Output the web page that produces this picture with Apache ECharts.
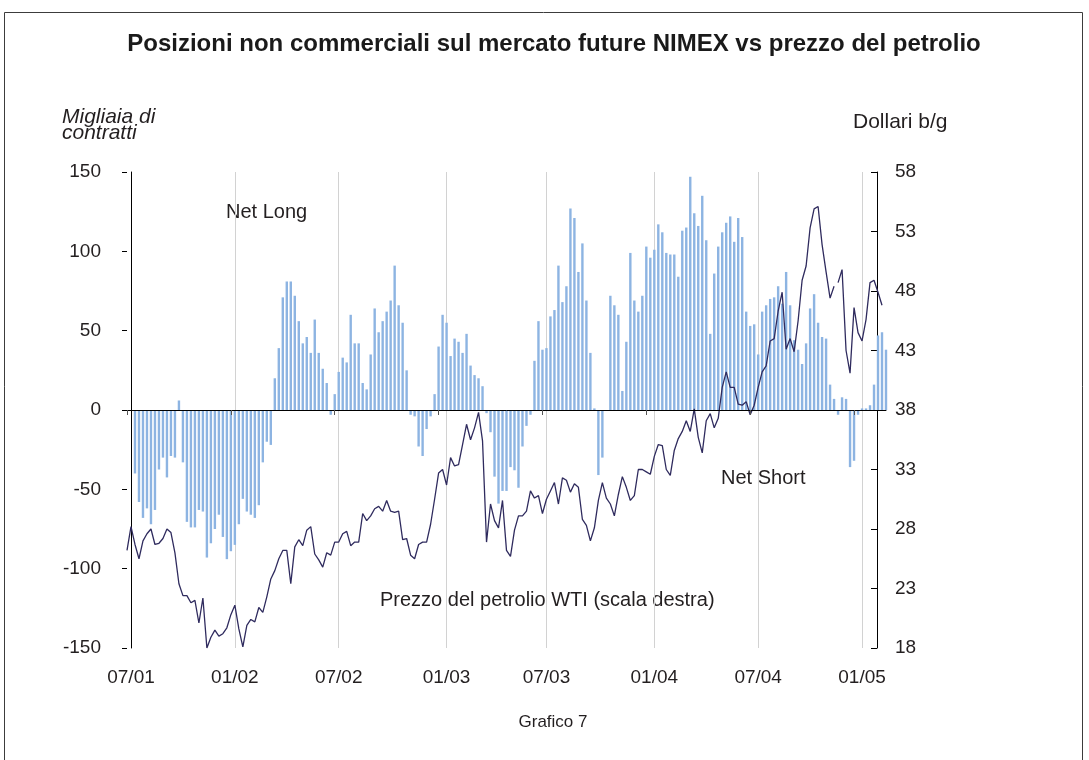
<!DOCTYPE html>
<html>
<head>
<meta charset="utf-8">
<script src="https://cdn.jsdelivr.net/npm/echarts@6/dist/echarts.min.js"></script>
<style>
html,body{margin:0;padding:0;background:#fff;}
#chart{width:1089px;height:760px;}
</style>
</head>
<body>
<div id="chart"></div>
<script>
// ---- data ----
const startWeek = '2001-06-26';          // first weekly observation
const weekCount = 191;                    // weekly categories
const xTickLabels = ['07/01','01/02','07/02','01/03','07/03','01/04','07/04','01/05'];
const leftTicks = [-150,-100,-50,0,50,100,150];
const rightTicks = [18,23,28,33,38,43,48,53,58];

// net non-commercial positions (thousand contracts), weekly, starting at week index 2
const netPositions = [
-40,-58,-68,-62,-72,-63,-37.5,-30,-42.5,-29,
-30,6,-33,-70.5,-74,-74,-63,-64,-93,-84,
-75,-66,-80,-94,-89,-85,-72,-56,-64,-66,
-68,-60,-33,-20,-22,20,39,71,81,81,
72,56,42,46,36,57,36,26,17,-3,
10,24,33,30,60,42,42,17,13,35,
64,49,56,62,69,91,66,55,25,-3,
-4,-23,-29,-12,-4,10,40,60,55,34,
45,43,36,48,28,22,20,15,-2,-14,
-42,-59,-51,-51,-36,-38,-49,-23,-10,-3,
31,56,38,39,59,63,91,68,78,127,
121,87,105,69,36,1,-41,-30,null,72,
66,60,12,43,99,69,62,72,103,96,
101,117,112,99,98,98,84,113,115,147,
124,116,135,107,48,86,103,112,118,122,
106,121,109,62,53,54,35,62,66,70,
71,78,67,87,66,44,38,29,42,64,
73,55,46,45,16,7,-3,8,7,-36,
-32,-3,1,1,3,16,47,49,38
];
const barOffset = 2;

// WTI price (USD per barrel), weekly from week index 0
const wtiPrice = [
26.2,28.2,26.7,25.5,27.0,27.6,28.0,26.7,26.8,27.2,
28.0,27.7,26.0,23.4,22.4,22.4,21.8,22.0,20.1,22.2,
18.0,18.9,19.5,19.0,19.2,19.7,20.8,21.6,19.6,18.1,
19.9,20.4,20.2,21.4,21.0,22.3,23.8,24.5,25.5,26.2,
26.2,23.4,26.5,27.1,26.6,27.9,28.2,25.9,25.4,24.8,
26.0,25.8,26.9,26.9,27.6,27.8,26.6,26.9,26.9,29.3,
28.7,29.1,29.7,29.9,29.5,30.4,29.5,29.4,29.5,27.1,
27.2,25.8,25.5,26.7,26.9,26.9,28.4,30.5,32.7,33.0,
31.7,34.0,33.3,33.4,35.1,36.8,35.5,36.5,37.8,35.4,
26.9,30.1,28.7,28.1,30.4,26.2,25.7,27.9,29.1,29.1,
29.5,31.2,30.6,30.8,29.3,30.5,31.2,31.9,30.1,32.3,
32.1,31.1,31.8,31.5,28.8,28.3,27.0,28.1,30.4,31.9,
30.6,30.1,29.1,30.9,32.4,31.5,30.4,30.8,33.0,33.0,
32.8,32.6,34.1,35.1,35.0,33.0,32.5,34.6,35.6,36.2,
37.1,36.2,38.1,35.7,34.4,37.1,37.7,36.5,37.3,39.9,
41.2,39.9,39.9,38.5,38.4,38.7,37.6,38.4,39.9,41.2,
41.7,43.8,44.0,46.3,47.9,43.1,44.0,42.9,45.5,48.9,
50.1,53.3,54.9,55.1,51.9,49.6,47.4,48.4,48.7,49.8,
43.0,41.1,46.6,44.5,43.8,45.6,48.7,48.9,47.9,46.8
];
const wtiBreakAfter = 177;   // line is interrupted after this week

const titleText = 'Posizioni non commerciali sul mercato future NIMEX vs prezzo del petrolio';
const leftUnit = ['Migliaia di', 'contratti'];
const rightUnit = 'Dollari b/g';
const noteLong = 'Net Long';
const noteShort = 'Net Short';
const notePrice = 'Prezzo del petrolio WTI (scala destra)';
const footer = 'Grafico 7';

// ---- build ----
const FONT = '"Liberation Sans", Arial, Helvetica, sans-serif';
const TXT = '#231f20';
const categories = [];
const catDates = [];
(function(){
  const p = startWeek.split('-').map(Number);
  const t0 = Date.UTC(p[0], p[1]-1, p[2]);
  for (let k = 0; k < weekCount; k++) {
    const d = new Date(t0 + k*7*86400000);
    catDates.push(d);
    categories.push(d.toISOString().slice(0,10));
  }
})();
const labelAt = {};
xTickLabels.forEach(function(lab){
  const mm = +lab.slice(0,2), yy = 2000 + (+lab.slice(3,5));
  for (let k = 0; k < catDates.length; k++) {
    if (catDates[k].getUTCFullYear() === yy && catDates[k].getUTCMonth() === mm-1) { labelAt[k] = lab; break; }
  }
});
const isLabel = function(i){ return labelAt[i] !== undefined; };

const barData = new Array(weekCount).fill(null);
netPositions.forEach(function(v,i){ barData[i+barOffset] = v; });
const lineA = wtiPrice.map(function(v,i){ return i <= wtiBreakAfter ? v : null; });
const lineB = wtiPrice.map(function(v,i){ return i > wtiBreakAfter ? v : null; });

const chart = echarts.init(document.getElementById('chart'), null, {renderer:'canvas'});
const lineStyleWti = { color: '#2f2b5e', width: 1.3 };
chart.setOption({
  animation: false,
  backgroundColor: '#ffffff',
  title: {
    text: titleText, left: 554, top: 32, textAlign: 'center', padding: 0,
    textStyle: { fontFamily: FONT, fontSize: 24, fontWeight: 'bold', color: '#1a1a1a' }
  },
  grid: { left: 127, right: 203, top: 172, bottom: 112 },
  xAxis: [
    {
      type: 'category', data: categories, boundaryGap: false, position: 'bottom',
      axisLine: { show: false, onZero: false }, axisTick: { show: false },
      axisLabel: { interval: function(i){ return isLabel(i); }, formatter: function(v,i){ return labelAt[i] || ''; },
        fontFamily: FONT, fontSize: 19, color: TXT, margin: 20 },
      splitLine: { show: true, interval: function(i){ return isLabel(i); }, lineStyle: { color: '#d2d2d2', width: 1 } }
    },
    {
      type: 'category', data: categories, boundaryGap: false, position: 'bottom', z: 5,
      axisLine: { show: true, onZero: true, onZeroAxisIndex: 0, lineStyle: { color: '#000', width: 1 } },
      axisTick: { show: true, interval: function(i){ return i % 26 === 0; }, length: 5, lineStyle: { color: '#555' } },
      axisLabel: { show: false }, splitLine: { show: false }
    }
  ],
  yAxis: [
    {
      type: 'value', position: 'left', min: leftTicks[0], max: leftTicks[leftTicks.length-1], interval: 50, offset: -4,
      axisLine: { show: true, onZero: false, lineStyle: { color: '#000', width: 1 } },
      axisTick: { show: false }, axisLabel: { show: false }, splitLine: { show: false }
    },
    {
      type: 'value', position: 'right', min: rightTicks[0], max: rightTicks[rightTicks.length-1], interval: 5, offset: -9,
      axisLine: { show: true, onZero: false, lineStyle: { color: '#000', width: 1 } },
      axisTick: { show: true, inside: true, length: 6, lineStyle: { color: '#000' } },
      axisLabel: { margin: 18, fontFamily: FONT, fontSize: 19, color: TXT },
      splitLine: { show: false }
    },
    {
      type: 'value', position: 'left', min: leftTicks[0], max: leftTicks[leftTicks.length-1], interval: 50, offset: 0,
      axisLine: { show: false, onZero: false },
      axisTick: { show: true, length: 5, lineStyle: { color: '#000' } },
      axisLabel: { margin: 26, fontFamily: FONT, fontSize: 19, color: TXT },
      splitLine: { show: false }
    }
  ],
  series: [
    { type: 'bar', name: 'Posizioni nette', xAxisIndex: 0, yAxisIndex: 0, data: barData,
      barWidth: 2.4, itemStyle: { color: '#8db4e2' }, z: 2 },
    { type: 'line', name: 'WTI', xAxisIndex: 0, yAxisIndex: 1, data: lineA, symbol: 'none',
      connectNulls: false, lineStyle: lineStyleWti, z: 3 },
    { type: 'line', name: 'WTI ', xAxisIndex: 0, yAxisIndex: 1, data: lineB, symbol: 'none',
      connectNulls: false, lineStyle: lineStyleWti, z: 3 }
  ],
  graphic: [
    { type: 'rect', silent: true, z: -10, shape: { x: 4.5, y: 12.5, width: 1078, height: 800 },
      style: { fill: 'none', stroke: '#3c3c3c', lineWidth: 1 } },
    { type: 'text', x: 62, y: 117, style: { text: leftUnit[0], font: 'italic 21px ' + FONT, fill: TXT, verticalAlign: 'middle' } },
    { type: 'text', x: 62, y: 133, style: { text: leftUnit[1], font: 'italic 21px ' + FONT, fill: TXT, verticalAlign: 'middle' } },
    { type: 'text', x: 853, y: 122, style: { text: rightUnit, font: '21px ' + FONT, fill: TXT, verticalAlign: 'middle' } },
    { type: 'text', x: 226, y: 212, style: { text: noteLong, font: '20px ' + FONT, fill: TXT, verticalAlign: 'middle' } },
    { type: 'text', x: 721, y: 478, style: { text: noteShort, font: '20px ' + FONT, fill: TXT, verticalAlign: 'middle' } },
    { type: 'text', x: 380, y: 600, style: { text: notePrice, font: '20px ' + FONT, fill: TXT, verticalAlign: 'middle' } },
    { type: 'text', x: 553, y: 722, style: { text: footer, font: '17px ' + FONT, fill: TXT, align: 'center', verticalAlign: 'middle' } }
  ]
});
</script>
</body>
</html>
